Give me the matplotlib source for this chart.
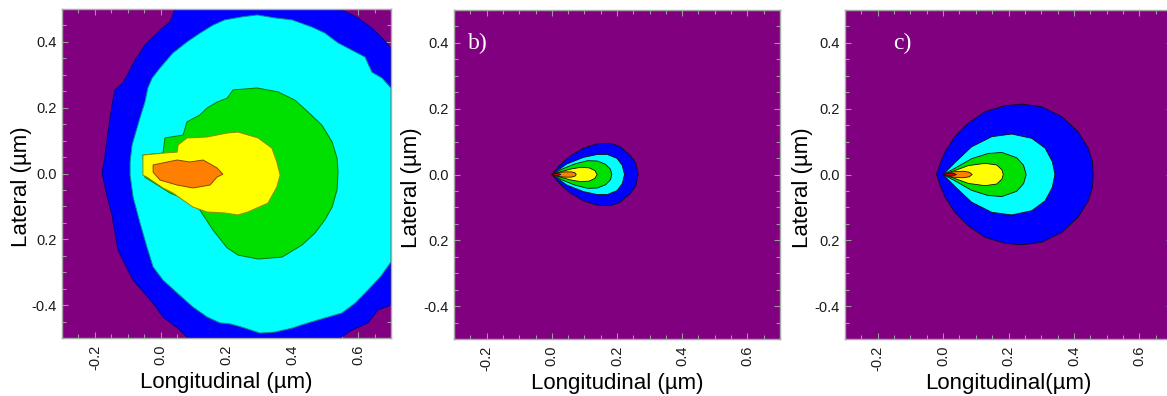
import numpy as np
import matplotlib
matplotlib.use("Agg")
import matplotlib.pyplot as plt
from matplotlib.ticker import MultipleLocator, FixedLocator, FixedFormatter

plt.rcParams['font.family'] = ['Liberation Sans', 'DejaVu Sans']

# ---------------- data ----------------
XLIM = (-0.3, 0.7)
YLIM = (-0.5, 0.5)
x_ticks = [-0.2, 0.0, 0.2, 0.4, 0.6]
x_tick_labels = ['-0.2', '0.0', '0.2', '0.4', '0.6']
y_ticks = [-0.4, -0.2, 0.0, 0.2, 0.4]
y_tick_labels = ['-0.4', '0.2', '0.0', '0.2', '0.4']

level_colors = ['#0000ff', '#00ffff', '#00e000', '#ffff00', '#ff8000', '#d00000']
background = '#800080'

# panel a) contour outlines (x, y in µm)
a_blue_x = [0.044, 0.028, -0.002, -0.023, -0.048, -0.063, -0.078, -0.093, -0.115, -0.139,
            -0.148, -0.160, -0.169, -0.178, -0.160, -0.148, -0.130, -0.084, -0.023, 0.007,
            0.059, 0.083, 0.545, 0.581, 0.630, 0.660, 0.700, 0.700, 0.673, 0.642, 0.600, 0.545]
a_blue_y = [0.500, 0.460, 0.436, 0.415, 0.391, 0.366, 0.345, 0.315, 0.275, 0.254,
            0.208, 0.126, 0.056, 0.001, -0.081, -0.126, -0.233, -0.324, -0.394, -0.436,
            -0.476, -0.500, -0.500, -0.476, -0.454, -0.415, -0.400, 0.381, 0.412, 0.442, 0.473, 0.500]

a_cyan_x = [0.195, 0.159, 0.120, 0.080, 0.037, -0.002, -0.026, -0.039, -0.048, -0.063,
            -0.072, -0.087, -0.093, -0.093, -0.084, -0.063, -0.042, -0.023, 0.007, 0.050,
            0.098, 0.141, 0.180, 0.211, 0.226, 0.256, 0.302, 0.347, 0.399, 0.448,
            0.499, 0.551, 0.591, 0.630, 0.667, 0.700, 0.700, 0.673, 0.642, 0.621,
            0.581, 0.539, 0.499, 0.460, 0.399, 0.347, 0.293, 0.247]
a_cyan_y = [0.467, 0.451, 0.427, 0.400, 0.366, 0.321, 0.290, 0.260, 0.217, 0.169,
            0.138, 0.087, 0.035, -0.005, -0.071, -0.150, -0.223, -0.284, -0.324, -0.363,
            -0.406, -0.436, -0.454, -0.457, -0.461, -0.470, -0.485, -0.482, -0.470, -0.454,
            -0.439, -0.424, -0.394, -0.354, -0.315, -0.269, 0.260, 0.290, 0.308, 0.354,
            0.375, 0.397, 0.427, 0.445, 0.467, 0.473, 0.482, 0.476]

a_green_x = [0.293, 0.220, 0.202, 0.171, 0.141, 0.119, 0.080, 0.068, 0.013, 0.007,
             -0.054, -0.048, 0.028, 0.080, 0.119, 0.159, 0.202, 0.235, 0.296, 0.369,
             0.430, 0.469, 0.499, 0.521, 0.536, 0.539, 0.536, 0.521, 0.490, 0.448,
             0.408, 0.357]
a_green_y = [0.260, 0.254, 0.229, 0.217, 0.199, 0.178, 0.157, 0.117, 0.108, 0.062,
             0.056, -0.011, -0.059, -0.081, -0.111, -0.172, -0.226, -0.248, -0.260, -0.254,
             -0.217, -0.181, -0.141, -0.102, -0.050, 0.005, 0.047, 0.096, 0.147, 0.187,
             0.223, 0.248]

a_yellow_x = [-0.054, 0.007, 0.050, 0.053, 0.080, 0.141, 0.202, 0.235, 0.296, 0.338,
              0.353, 0.363, 0.353, 0.326, 0.265, 0.235, 0.195, 0.141, 0.098, 0.037,
              0.007, -0.042, -0.054]
a_yellow_y = [0.056, 0.062, 0.065, 0.087, 0.108, 0.111, 0.123, 0.126, 0.108, 0.077,
              0.035, -0.005, -0.041, -0.090, -0.117, -0.126, -0.120, -0.117, -0.102, -0.059,
              -0.044, -0.011, -0.005]

a_orange_x = [-0.023, 0.050, 0.089, 0.129, 0.171, 0.189, 0.171, 0.150, 0.098, 0.050,
              -0.002, -0.023]
a_orange_y = [0.026, 0.041, 0.035, 0.041, 0.017, -0.002, -0.011, -0.035, -0.044, -0.035,
              -0.020, 0.004]

# panel b) upper halves of the (symmetric) contours, from tip to right end
b_blue_x = [0.0, 0.025, 0.056, 0.097, 0.138, 0.179, 0.209, 0.240, 0.258, 0.265]
b_blue_y = [0.0, 0.029, 0.056, 0.080, 0.093, 0.095, 0.085, 0.059, 0.034, 0.0]
b_cyan_x = [0.0, 0.046, 0.097, 0.140, 0.170, 0.200, 0.216, 0.223]
b_cyan_y = [0.0, 0.032, 0.052, 0.061, 0.061, 0.049, 0.028, 0.0]
b_green_x = [0.0, 0.030, 0.070, 0.110, 0.140, 0.165, 0.180, 0.184]
b_green_y = [0.0, 0.016, 0.032, 0.042, 0.041, 0.031, 0.016, 0.0]
b_yellow_x = [0.0, 0.030, 0.060, 0.090, 0.115, 0.132, 0.139]
b_yellow_y = [0.0, 0.009, 0.017, 0.022, 0.020, 0.012, 0.0]
b_orange_x = [0.006, 0.020, 0.040, 0.060, 0.071, 0.075]
b_orange_y = [0.0, 0.006, 0.008, 0.008, 0.005, 0.0]
b_red_x = [0.0, 0.010, 0.020, 0.028]
b_red_y = [0.0, 0.003, 0.003, 0.0]

# panel c)
c_blue_x = [-0.020, -0.009, 0.006, 0.036, 0.077, 0.128, 0.189, 0.240, 0.302, 0.363,
            0.413, 0.444, 0.457, 0.459]
c_blue_y = [0.0, 0.034, 0.069, 0.115, 0.156, 0.191, 0.209, 0.214, 0.206, 0.176,
            0.130, 0.080, 0.039, 0.0]
c_cyan_x = [0.0, 0.036, 0.087, 0.149, 0.210, 0.271, 0.312, 0.334, 0.342]
c_cyan_y = [0.0, 0.036, 0.084, 0.115, 0.123, 0.110, 0.080, 0.039, 0.0]
c_green_x = [0.0, 0.036, 0.087, 0.138, 0.180, 0.225, 0.246, 0.254]
c_green_y = [0.0, 0.019, 0.048, 0.064, 0.067, 0.051, 0.028, 0.0]
c_yellow_x = [0.0, 0.036, 0.077, 0.128, 0.164, 0.180, 0.184]
c_yellow_y = [0.0, 0.012, 0.027, 0.034, 0.029, 0.014, 0.0]
c_orange_x = [0.005, 0.030, 0.060, 0.080, 0.089]
c_orange_y = [0.0, 0.008, 0.010, 0.007, 0.0]
c_red_x = [0.0, 0.015, 0.030, 0.041]
c_red_y = [0.0, 0.004, 0.004, 0.0]

panel_labels = ['', 'b)', 'c)']
x_titles = ['Longitudinal (µm)', 'Longitudinal (µm)', 'Longitudinal(µm)']
y_title = 'Lateral (µm)'


def mirror(x, y):
    x = np.asarray(x, float)
    y = np.asarray(y, float)
    xf = np.concatenate([x, x[::-1][1:-1]])
    yf = np.concatenate([y, -y[::-1][1:-1]])
    return xf, yf


def darker(c, f=0.55):
    r, g, b = matplotlib.colors.to_rgb(c)
    return (r * f, g * f, b * f)


W, H = 1167, 396
fig = plt.figure(figsize=(W / 100, H / 100), dpi=100)

# axes boxes in pixels: left, top, right, bottom
boxes = [(62, 9, 391, 338), (454, 10, 780, 339), (845, 10, 1172, 339)]
ylabel_x = [-0.122, -0.129, -0.131]

axes = []
for (l, t, r, b) in boxes:
    ax = fig.add_axes([l / W, (H - b) / H, (r - l) / W, (b - t) / H])
    axes.append(ax)

# panel a
ax = axes[0]
a_regions = [(a_blue_x, a_blue_y), (a_cyan_x, a_cyan_y), (a_green_x, a_green_y),
             (a_yellow_x, a_yellow_y), (a_orange_x, a_orange_y)]
for (xs, ys), col in zip(a_regions, level_colors):
    ax.fill(xs, ys, facecolor=col, edgecolor=darker(col), linewidth=0.7, zorder=2)

# panels b, c
b_regions = [(b_blue_x, b_blue_y), (b_cyan_x, b_cyan_y), (b_green_x, b_green_y),
             (b_yellow_x, b_yellow_y), (b_orange_x, b_orange_y), (b_red_x, b_red_y)]
c_regions = [(c_blue_x, c_blue_y), (c_cyan_x, c_cyan_y), (c_green_x, c_green_y),
             (c_yellow_x, c_yellow_y), (c_orange_x, c_orange_y), (c_red_x, c_red_y)]
for ax, regs in zip(axes[1:], [b_regions, c_regions]):
    for (xs, ys), col in zip(regs, level_colors):
        xf, yf = mirror(xs, ys)
        ax.fill(xf, yf, facecolor=col, edgecolor='#101010', linewidth=0.6, zorder=2)

for i, ax in enumerate(axes):
    ax.set_facecolor(background)
    ax.set_xlim(*XLIM)
    ax.set_ylim(*YLIM)
    ax.xaxis.set_major_locator(FixedLocator(x_ticks))
    ax.xaxis.set_major_formatter(FixedFormatter(x_tick_labels))
    ax.yaxis.set_major_locator(FixedLocator(y_ticks))
    ax.yaxis.set_major_formatter(FixedFormatter(y_tick_labels))
    ax.xaxis.set_minor_locator(MultipleLocator(0.05))
    ax.yaxis.set_minor_locator(MultipleLocator(0.05))
    ax.tick_params(which='both', direction='in', top=True, right=True,
                   color='#9a9a9a', width=0.8)
    ax.tick_params(which='major', length=4)
    ax.tick_params(which='minor', length=3)
    ax.tick_params(axis='x', which='major', labelrotation=90, labelsize=10.5,
                   pad=5, labelcolor='#1a1a1a')
    ax.tick_params(axis='y', which='major', labelsize=10.5, pad=4, labelcolor='#1a1a1a')
    for s in ax.spines.values():
        s.set_color('#a8a8a8')
        s.set_linewidth(1.0)
    ax.set_xlabel(x_titles[i], fontsize=16, va='center')
    ax.xaxis.set_label_coords(0.5, -0.134)
    ax.set_ylabel(y_title, fontsize=16, va='center')
    ax.yaxis.set_label_coords(ylabel_x[i], 0.46)
    if panel_labels[i]:
        xpos = 0.043 if i == 1 else 0.147
        ax.text(xpos, 0.898, panel_labels[i], transform=ax.transAxes, color='white',
                fontsize=17, family='Liberation Serif', va='center', ha='left', zorder=5)

fig.savefig('out.png', dpi=100)
